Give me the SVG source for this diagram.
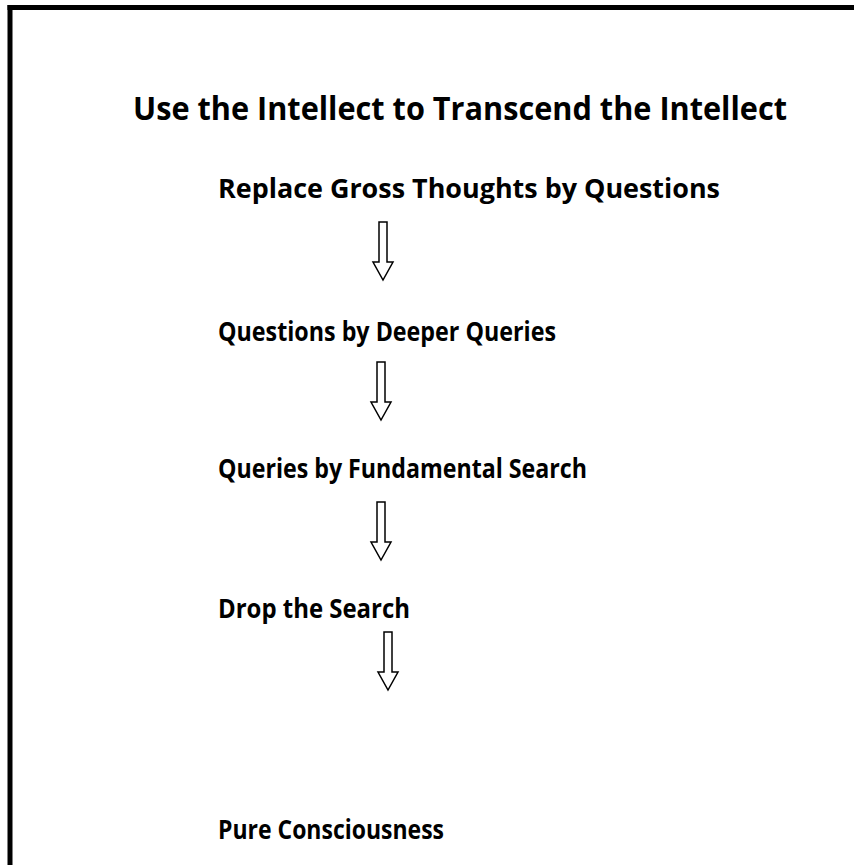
<svg xmlns="http://www.w3.org/2000/svg" width="854" height="865" viewBox="0 0 854 865">
<defs>
<style>
.t{font-family:"Open Sans","Liberation Sans",sans-serif;font-weight:bold;fill:#000;}
.ti{font-size:32px;}
.st{font-size:26px;}
.ar{fill:#fff;stroke:#000;stroke-width:1.5;stroke-linejoin:miter;}
</style>
<path id="arrow" d="M-4,0 H4 V40 H10 L0,58 L-10,40 H-4 Z"/>
</defs>
<rect width="854" height="865" fill="#fff"/>
<g id="frame">
<line x1="7.5" y1="7.5" x2="854" y2="7.5" stroke="#000" stroke-width="5"/>
<line x1="10" y1="5" x2="10" y2="865" stroke="#000" stroke-width="5"/>
</g>
<g id="title"><text class="t ti" x="133" y="120" textLength="654" lengthAdjust="spacingAndGlyphs">Use the Intellect to Transcend the Intellect</text></g>
<g id="n1"><text class="t st" x="218" y="198" textLength="502" lengthAdjust="spacingAndGlyphs">Replace Gross Thoughts by Questions</text></g>
<g id="n2"><text class="t st" x="218" y="341" textLength="338" lengthAdjust="spacingAndGlyphs">Questions by Deeper Queries</text></g>
<g id="n3"><text class="t st" x="218" y="478" textLength="369" lengthAdjust="spacingAndGlyphs">Queries by Fundamental Search</text></g>
<g id="n4"><text class="t st" x="218" y="618" textLength="192" lengthAdjust="spacingAndGlyphs">Drop the Search</text></g>
<g id="n5"><text class="t st" x="218" y="839" textLength="226" lengthAdjust="spacingAndGlyphs">Pure Consciousness</text></g>
<g id="connectors">
<use href="#arrow" class="ar" x="383" y="222"/>
<use href="#arrow" class="ar" x="381" y="362"/>
<use href="#arrow" class="ar" x="381" y="502"/>
<use href="#arrow" class="ar" x="388" y="632"/>
</g>
</svg>
